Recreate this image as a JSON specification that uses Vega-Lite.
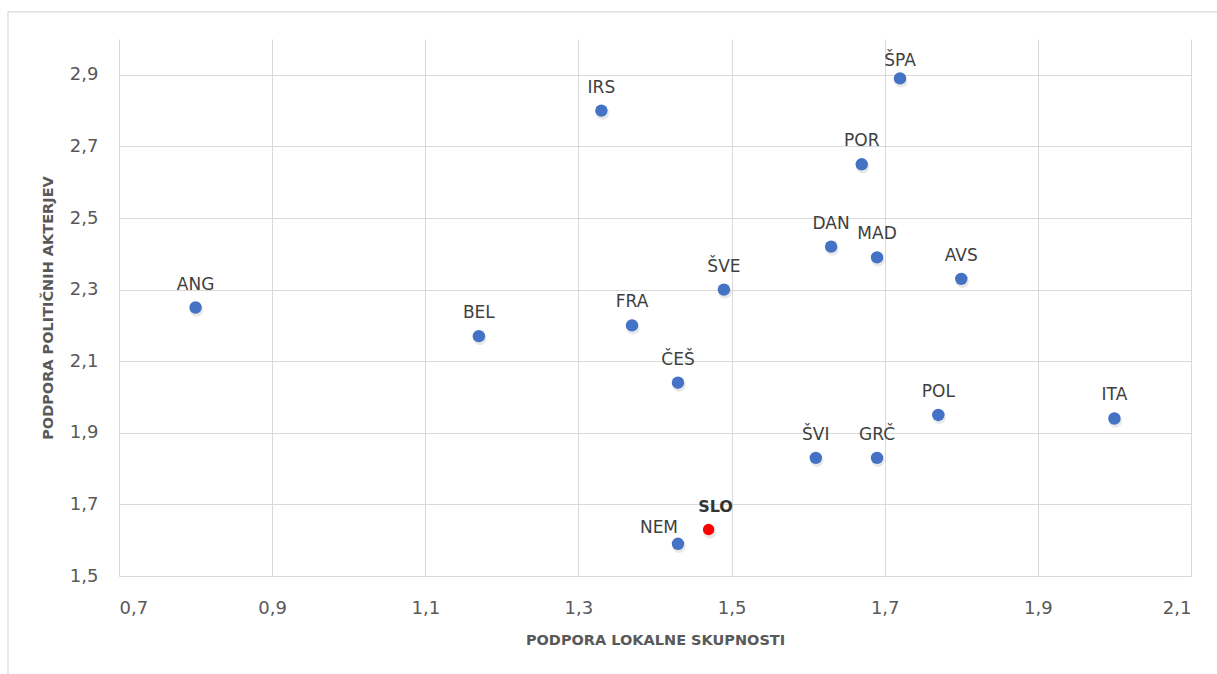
{
  "$schema": "https://vega.github.io/schema/vega-lite/v6.json",
  "width": 1072,
  "height": 537,
  "autosize": {"type": "none"},
  "padding": {"left": 119, "top": 39, "right": 26, "bottom": 98},
  "background": "white",
  "config": {
    "view": {"stroke": null},
    "font": "DejaVu Sans",
    "axis": {
      "grid": true,
      "gridColor": "#d9d9d9",
      "gridWidth": 1,
      "domain": false,
      "ticks": false,
      "labelFont": "DejaVu Sans",
      "labelFontSize": 18,
      "labelColor": "#595959",
      "titleFont": "DejaVu Sans",
      "titleFontSize": 14.5,
      "titleFontWeight": "bold",
      "titleColor": "#595959"
    }
  },
  "datasets": {
    "drzave": [
      {"drzava": "ANG", "lokalna": 0.80, "politicni": 2.25},
      {"drzava": "BEL", "lokalna": 1.17, "politicni": 2.17},
      {"drzava": "IRS", "lokalna": 1.33, "politicni": 2.80},
      {"drzava": "FRA", "lokalna": 1.37, "politicni": 2.20},
      {"drzava": "ČEŠ", "lokalna": 1.43, "politicni": 2.04},
      {"drzava": "NEM", "lokalna": 1.43, "politicni": 1.59},
      {"drzava": "SLO", "lokalna": 1.47, "politicni": 1.63},
      {"drzava": "ŠVE", "lokalna": 1.49, "politicni": 2.30},
      {"drzava": "ŠVI", "lokalna": 1.61, "politicni": 1.83},
      {"drzava": "DAN", "lokalna": 1.63, "politicni": 2.42},
      {"drzava": "POR", "lokalna": 1.67, "politicni": 2.65},
      {"drzava": "MAD", "lokalna": 1.69, "politicni": 2.39},
      {"drzava": "GRČ", "lokalna": 1.69, "politicni": 1.83},
      {"drzava": "ŠPA", "lokalna": 1.72, "politicni": 2.89},
      {"drzava": "POL", "lokalna": 1.77, "politicni": 1.95},
      {"drzava": "AVS", "lokalna": 1.80, "politicni": 2.33},
      {"drzava": "ITA", "lokalna": 2.00, "politicni": 1.94}
    ]
  },
  "layer": [
    {
      "data": {"values": [{}]},
      "mark": {"type": "rect", "fill": null, "stroke": "#d9d9d9", "strokeWidth": 1.2, "clip": false},
      "encoding": {
        "x": {
          "datum": 0.555,
          "type": "quantitative",
          "scale": {"domain": [0.7, 2.1], "nice": false, "zero": false},
          "axis": {
            "title": "PODPORA LOKALNE SKUPNOSTI",
            "values": [0.7, 0.9, 1.1, 1.3, 1.5, 1.7, 1.9, 2.1],
            "labelExpr": "replace(format(datum.value, '.1f'), '.', ',')",
            "labelPadding": 23,
            "titlePadding": 16
          }
        },
        "x2": {"datum": 2.4},
        "y": {
          "datum": 3.076,
          "type": "quantitative",
          "scale": {"domain": [1.5, 3.0], "nice": false, "zero": false},
          "axis": {
            "title": "PODPORA POLITIČNIH AKTERJEV",
            "values": [1.5, 1.7, 1.9, 2.1, 2.3, 2.5, 2.7, 2.9],
            "labelExpr": "replace(format(datum.value, '.1f'), '.', ',')",
            "labelPadding": 21,
            "titlePadding": 14
          }
        },
        "y2": {"datum": 0.9}
      }
    },
    {
      "data": {"name": "drzave"},
      "layer": [
        {
          "mark": {"type": "point", "filled": true, "shape": "circle", "size": 175, "color": "#000000", "opacity": 0.09, "xOffset": 1, "yOffset": 2.5},
          "encoding": {}
        },
        {
          "transform": [{"filter": "datum.drzava !== 'SLO'"}],
          "mark": {"type": "point", "filled": true, "shape": "circle", "size": 155, "color": "#4472C4", "opacity": 1},
          "encoding": {}
        },
        {
          "transform": [{"filter": "datum.drzava === 'SLO'"}],
          "mark": {"type": "point", "filled": true, "shape": "circle", "size": 130, "color": "#FF0000", "opacity": 1},
          "encoding": {}
        },
        {
          "transform": [{"filter": "datum.drzava !== 'SLO' && datum.drzava !== 'NEM' && datum.drzava !== 'ŠPA'"}],
          "mark": {"type": "text", "align": "center", "baseline": "alphabetic", "dy": -18, "fontSize": 17, "color": "#404040", "font": "DejaVu Sans"},
          "encoding": {"text": {"field": "drzava"}}
        },
        {
          "transform": [{"filter": "datum.drzava === 'ŠPA'"}],
          "mark": {"type": "text", "align": "center", "baseline": "alphabetic", "dy": -12, "fontSize": 17, "color": "#404040", "font": "DejaVu Sans"},
          "encoding": {"text": {"field": "drzava"}}
        },
        {
          "transform": [{"filter": "datum.drzava === 'NEM'"}],
          "mark": {"type": "text", "align": "center", "baseline": "alphabetic", "dx": -19, "dy": -11, "fontSize": 17, "color": "#404040", "font": "DejaVu Sans"},
          "encoding": {"text": {"field": "drzava"}}
        },
        {
          "transform": [{"filter": "datum.drzava === 'SLO'"}],
          "mark": {"type": "text", "align": "center", "baseline": "alphabetic", "dx": 7, "dy": -17, "fontSize": 16, "fontWeight": "bold", "color": "#333333", "font": "DejaVu Sans"},
          "encoding": {"text": {"field": "drzava"}}
        }
      ],
      "encoding": {
        "x": {
          "field": "lokalna",
          "type": "quantitative",
          "scale": {"domain": [0.7, 2.1], "nice": false, "zero": false},
          "axis": {
            "title": "PODPORA LOKALNE SKUPNOSTI",
            "values": [0.7, 0.9, 1.1, 1.3, 1.5, 1.7, 1.9, 2.1],
            "labelExpr": "replace(format(datum.value, '.1f'), '.', ',')",
            "labelPadding": 23,
            "titlePadding": 16
          }
        },
        "y": {
          "field": "politicni",
          "type": "quantitative",
          "scale": {"domain": [1.5, 3.0], "nice": false, "zero": false},
          "axis": {
            "title": "PODPORA POLITIČNIH AKTERJEV",
            "values": [1.5, 1.7, 1.9, 2.1, 2.3, 2.5, 2.7, 2.9],
            "labelExpr": "replace(format(datum.value, '.1f'), '.', ',')",
            "labelPadding": 21,
            "titlePadding": 14
          }
        }
      }
    }
  ]
}
